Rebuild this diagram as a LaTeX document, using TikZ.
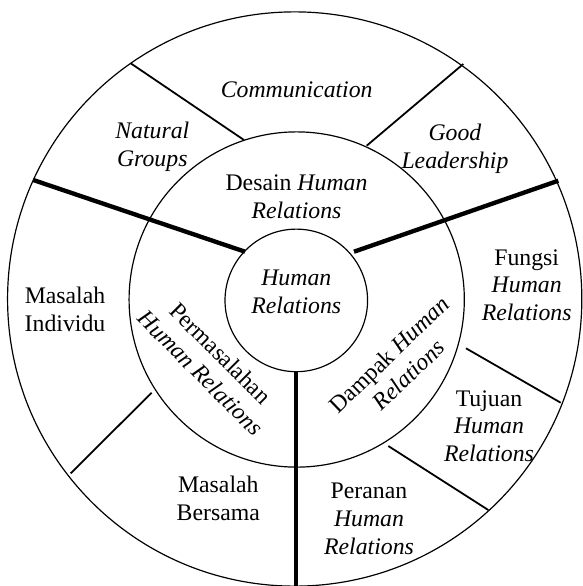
\documentclass[tikz,border=0pt]{standalone}
\usepackage{fontspec}
\setmainfont{Liberation Serif}
\usetikzlibrary{positioning}
\tikzset{ring/.style={draw,shape=circle,line width=0.6pt,inner sep=0pt}}
\tikzset{txt/.style={align=center,inner sep=1pt}}

\begin{document}
\begin{tikzpicture}[x=0.505pt,y=-0.505pt,font=\fontsize{12}{14}\selectfont]
		\tikzstyle{sep}=[line width=0.9pt]
		\tikzstyle{spoke}=[line width=2.2pt]
		\useasboundingbox (0,0) rectangle (583,586);

		% three rings
		\node[ring,minimum size=290pt](outer) at (294.7,299){};
		\node[ring,minimum size=169.3pt](middle) at (296.7,299.5){};
		\node[ring,minimum size=72pt](hub) at (296.3,300.4){};

		% centre and inner ring
		\node[txt](hr) at (296.3,292){\textit{Human}\\\textit{Relations}};
		\node[txt](desain) at (296.5,196.5){Desain \textit{Human}\\\textit{Relations}};
		\node[txt,rotate=-45](masalah) at (210.7,363){Permasalahan\\\textit{Human Relations}};
		\node[txt,rotate=44](dampak) at (398.7,364.7){Dampak \textit{Human}\\\textit{Relations}};

		% outer ring
		\node[txt](comm) at (296.7,90){\textit{Communication}};
		\node[txt](natural) at (152.3,147){\textit{Natural}\\\textit{Groups}};
		\node[txt](good) at (455,148.5){\textit{Good}\\\textit{Leadership}};
		\node[txt](fungsi) at (526.7,285){Fungsi\\\textit{Human}\\\textit{Relations}};
		\node[txt](tujuan) at (489,426){Tujuan\\\textit{Human}\\\textit{Relations}};
		\node[txt](peranan) at (369,519){Peranan\\\textit{Human}\\\textit{Relations}};
		\node[txt](bersama) at (218.3,498.5){Masalah\\Bersama};
		\node[txt](individu) at (65,309.5){Masalah\\Individu};

		% end points of the dividers
		\coordinate (sl1) at (33.3,180);
		\coordinate (sl2) at (245,251.7);
		\coordinate (sr1) at (558.3,180.7);
		\coordinate (sr2) at (354,251.7);
		\coordinate (t1a) at (130.7,63.3);
		\coordinate (t1b) at (244,140);
		\coordinate (t2a) at (463.3,64);
		\coordinate (t2b) at (366.7,145.7);
		\coordinate (t3a) at (466,348.3);
		\coordinate (t3b) at (560.7,402.7);
		\coordinate (t4a) at (388.3,446);
		\coordinate (t4b) at (488.3,510);
		\coordinate (t5a) at (151.7,392.7);
		\coordinate (t5b) at (70.7,473.3);

		\draw[spoke] (sl1) -- (sl2);
		\draw[spoke] (sr1) -- (sr2);
		\draw[spoke] (hub.south) -- (hub.south |- outer.south);

		\draw[sep] (t1a) -- (t1b);
		\draw[sep] (t2a) -- (t2b);
		\draw[sep] (t3a) -- (t3b);
		\draw[sep] (t4a) -- (t4b);
		\draw[sep] (t5a) -- (t5b);
	\end{tikzpicture}
\end{document}
